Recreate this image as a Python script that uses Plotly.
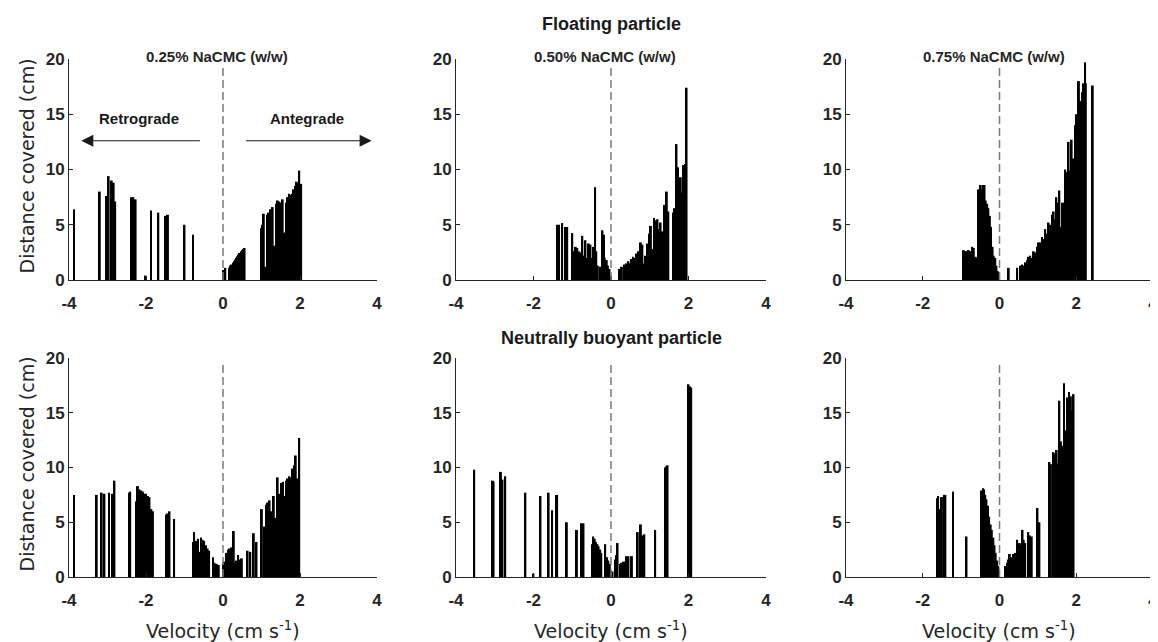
import plotly.graph_objects as go

# ---------------- data (velocity cm/s, distance covered cm) ----------------
vel_f25 = [-3.87, -3.20, -3.04, -2.97, -2.89, -2.84, -2.80, -2.39, -2.33, -2.27, -2.02, -1.87, -1.68, -1.50, -1.43, -1.00, -0.78,
           0.00, 0.06, 0.17, 0.20, 0.23, 0.26, 0.29, 0.32, 0.35, 0.38, 0.41, 0.44, 0.47, 0.50, 0.53, 0.56,
           0.99, 1.02, 1.06, 1.10, 1.15, 1.19, 1.24, 1.29, 1.33, 1.38, 1.42, 1.46, 1.51, 1.55, 1.60, 1.64, 1.68,
           1.72, 1.76, 1.80, 1.84, 1.88, 1.91, 1.95, 1.98, 2.03]
dist_f25 = [6.4, 8.0, 7.6, 9.4, 9.0, 8.8, 7.1, 7.5, 7.5, 7.3, 0.4, 6.3, 6.1, 5.8, 5.9, 5.0, 4.1,
            0.9, 1.1, 1.1, 1.3, 1.4, 1.55, 1.7, 1.85, 2.0, 2.15, 2.3, 2.45, 2.6, 2.7, 2.8, 2.9,
            4.7, 5.0, 6.0, 1.2, 5.9, 6.1, 6.4, 6.6, 3.1, 6.9, 7.2, 7.1, 7.0, 7.3, 4.3, 7.0, 7.5,
            7.8, 7.7, 7.8, 8.2, 8.5, 8.9, 8.8, 9.9, 8.7]

vel_f50 = [-1.39, -1.34, -1.26, -1.17, -1.13, -1.00, -0.97, -0.91, -0.87, -0.83, -0.78, -0.74, -0.70, -0.66, -0.61,
           -0.57, -0.53, -0.48, -0.44, -0.41, -0.38, -0.34, -0.28, -0.22, -0.18, -0.16, -0.11, -0.08, -0.04, -0.01,
           0.23, 0.28, 0.34, 0.40, 0.45, 0.49, 0.53, 0.57, 0.61, 0.66, 0.70, 0.73, 0.77, 0.81, 0.85, 0.90, 0.94, 0.98,
           1.03, 1.07, 1.11, 1.16, 1.20, 1.24, 1.28, 1.33, 1.37, 1.41, 1.44, 1.48, 1.61, 1.65, 1.69, 1.73, 1.77, 1.80,
           1.84, 1.87, 1.91, 1.95]
dist_f50 = [5.0, 5.0, 5.15, 4.8, 4.8, 4.25, 2.6, 3.0, 2.9, 2.6, 2.5, 4.0, 2.2, 3.6, 2.0,
            3.3, 3.2, 2.0, 3.0, 8.4, 2.6, 1.3, 1.2, 4.5, 4.1, 2.0, 1.8, 1.3, 1.0, 0.4,
            1.0, 1.2, 1.4, 1.5, 1.7, 1.5, 1.9, 2.1, 2.0, 2.4, 2.6, 1.2, 3.4, 3.2, 1.5, 2.2, 3.3, 4.2,
            4.9, 2.8, 5.6, 5.4, 5.5, 4.6, 5.2, 4.4, 6.8, 4.7, 8.0, 6.2, 6.1, 6.5, 12.3, 10.2, 8.0, 9.3,
            7.9, 10.4, 10.5, 17.4]

vel_f75 = [-0.93, -0.88, -0.84, -0.80, -0.75, -0.71, -0.67, -0.62, -0.58, -0.54, -0.49, -0.46, -0.42, -0.39, -0.36,
           -0.32, -0.29, -0.25, -0.22, -0.18, -0.15, -0.11, -0.08, -0.04, -0.01,
           0.24, 0.46, 0.54, 0.59, 0.63, 0.67, 0.72, 0.76, 0.80, 0.85, 0.89, 0.93, 0.98, 1.02, 1.06, 1.11, 1.15, 1.19,
           1.24, 1.28, 1.32, 1.37, 1.41, 1.45, 1.48, 1.51, 1.56, 1.60, 1.64, 1.69, 1.71, 1.76, 1.80, 1.84, 1.88, 1.93,
           1.97, 2.00, 2.03, 2.07, 2.11, 2.15, 2.18, 2.23, 2.25, 2.43]
dist_f75 = [2.7, 2.6, 2.6, 2.7, 2.6, 3.0, 2.9, 2.1, 2.0, 8.2, 8.6, 8.2, 8.6, 8.6, 7.2,
            6.9, 6.5, 5.8, 4.8, 3.0, 2.2, 2.0, 1.3, 0.8, 0.3,
            1.1, 1.1, 1.3, 1.4, 1.3, 1.6, 1.8, 2.1, 2.2, 2.0, 2.6, 2.5, 3.0, 3.4, 3.4, 3.9, 3.7, 4.6,
            4.2, 5.2, 5.0, 5.9, 6.2, 5.5, 7.5, 7.0, 8.1, 4.8, 7.0, 7.0, 10.0, 9.8, 12.5, 9.9, 12.7, 11.0,
            14.0, 15.0, 13.5, 18.0, 16.2, 17.0, 17.8, 19.7, 17.8, 17.6]

vel_n25 = [-3.87, -3.28, -3.15, -3.08, -2.96, -2.87, -2.82, -2.43, -2.41, -2.24, -2.21, -2.17, -2.12, -2.08, -2.04,
           -2.00, -1.95, -1.91, -1.86, -1.82, -1.47, -1.43, -1.39, -1.27, -0.78, -0.75, -0.70, -0.65, -0.61, -0.57,
           -0.53, -0.49, -0.44, -0.40, -0.36, -0.26, -0.22, -0.16, -0.11, 0.00, 0.03, 0.09, 0.13, 0.17, 0.21, 0.28,
           0.32, 0.36, 0.39, 0.43, 0.49, 0.64, 0.71, 0.80, 0.87, 1.01, 1.07, 1.12, 1.16, 1.21, 1.26, 1.32, 1.37,
           1.42, 1.47, 1.52, 1.56, 1.60, 1.65, 1.68, 1.72, 1.77, 1.81, 1.85, 1.89, 1.94, 1.98]
dist_n25 = [7.5, 7.5, 7.7, 7.6, 7.7, 7.6, 8.8, 7.7, 7.8, 6.9, 8.3, 8.0, 7.9, 7.8, 7.6,
            7.6, 7.4, 7.3, 6.2, 6.0, 5.7, 5.8, 6.0, 5.3, 3.2, 4.1, 3.3, 3.5, 2.3, 3.6,
            3.4, 3.3, 2.9, 2.6, 2.4, 1.8, 1.3, 1.2, 1.1, 1.2, 1.4, 2.2, 2.5, 2.6, 2.7, 4.2,
            1.3, 1.5, 2.0, 1.6, 1.7, 2.4, 2.3, 4.0, 3.2, 6.2, 4.6, 6.6, 6.8, 7.0, 6.0, 7.4, 5.4,
            9.1, 7.6, 8.6, 8.7, 7.4, 8.8, 9.0, 9.2, 9.1, 9.9, 10.2, 11.1, 9.0, 12.7]

vel_n50 = [-3.53, -3.05, -3.03, -2.84, -2.80, -2.73, -2.21, -2.00, -1.82, -1.61, -1.52, -1.42, -1.39, -1.14, -0.88,
           -0.75, -0.71, -0.49, -0.46, -0.42, -0.39, -0.35, -0.32, -0.28, -0.25, -0.15, -0.10, -0.07, -0.03, 0.00,
           0.04, 0.11, 0.15, 0.17, 0.24, 0.28, 0.33, 0.37, 0.41, 0.45, 0.54, 0.69, 0.77, 0.82, 0.86, 1.14, 1.40,
           1.44, 1.46, 2.00, 2.04, 2.07]
dist_n50 = [9.8, 8.8, 8.7, 9.6, 8.9, 9.2, 7.7, 0.3, 7.4, 7.7, 6.1, 7.5, 7.5, 5.0, 4.3,
            4.9, 4.9, 3.0, 3.7, 3.5, 3.2, 3.0, 2.8, 2.5, 2.2, 3.0, 1.8, 1.5, 1.2, 0.6,
            0.5, 1.6, 2.0, 3.1, 1.2, 1.3, 1.4, 1.4, 1.9, 1.9, 1.9, 4.1, 4.8, 3.8, 3.9, 4.3, 10.0,
            10.1, 10.2, 17.6, 17.4, 17.3]

vel_n75 = [-1.62, -1.60, -1.54, -1.50, -1.44, -1.41, -1.21, -0.86, -0.47, -0.43, -0.40, -0.37, -0.34, -0.30, -0.27,
           -0.23, -0.20, -0.16, -0.13, -0.10, -0.06, -0.03, 0.16, 0.20, 0.23, 0.27, 0.30, 0.34, 0.37, 0.41, 0.46,
           0.49, 0.53, 0.56, 0.60, 0.63, 0.67, 0.75, 0.79, 0.84, 0.99, 1.04, 1.30, 1.34, 1.40, 1.44, 1.49, 1.53,
           1.56, 1.60, 1.64, 1.68, 1.73, 1.77, 1.81, 1.86, 1.89, 1.93]
dist_n75 = [7.2, 7.4, 6.2, 7.3, 7.5, 7.5, 7.8, 3.7, 7.9, 8.1, 8.0, 7.5, 7.1, 6.5, 5.5,
            4.8, 4.3, 3.6, 2.9, 2.2, 1.5, 1.0, 1.0, 1.3, 1.6, 2.1, 1.8, 1.7, 2.1, 2.2, 3.4,
            2.6, 3.1, 2.9, 4.3, 3.4, 3.1, 4.1, 3.8, 3.7, 6.3, 5.0, 10.5, 10.3, 11.4, 11.3, 11.6, 10.4,
            16.1, 12.4, 12.0, 17.7, 13.4, 16.4, 16.9, 16.5, 15.2, 16.7]

concentrations = ["0.25% NaCMC (w/w)", "0.50% NaCMC (w/w)", "0.75% NaCMC (w/w)"]
row_titles = ["Floating particle", "Neutrally buoyant particle"]
x_ticks = [-4, -2, 0, 2, 4]
x_tick_labels = ["-4", "-2", "0", "2", "4"]
y_ticks = [0, 5, 10, 15, 20]
y_tick_labels = ["0", "5", "10", "15", "20"]
x_range = [-4, 4]
y_range = [0, 20]
x_title = "Velocity (cm s<sup>-1</sup>)"
y_title = "Distance covered (cm)"

series = [(vel_f25, dist_f25), (vel_f50, dist_f50), (vel_f75, dist_f75),
          (vel_n25, dist_n25), (vel_n50, dist_n50), (vel_n75, dist_n75)]
for v, d in series:
    assert len(v) == len(d)

# ---------------- layout geometry (screen pixels) ----------------
# The page body adds an 8 px margin before the figure, so every screen
# position is shifted by that offset; the figure runs past the window edge.
OFF = 8
W, H = 1160, 642 - OFF
col_px = [(69, 377), (456, 766), (846, 1153)]
row_px = [(59, 280), (358, 577)]


def px_x(p):
    return (p - OFF) / W


def px_y(p):
    return 1 - (p - OFF) / H


AX_COLOR = "#262626"
tick_font = dict(family="Liberation Sans, Arial, sans-serif", size=17, color=AX_COLOR, weight="bold")
label_font = dict(family="DejaVu Sans, sans-serif", size=19, color="#262626")

fig = go.Figure()
layout = dict(
    width=W, height=H,
    margin=dict(l=0, r=0, t=0, b=0, autoexpand=False),
    paper_bgcolor="white", plot_bgcolor="white",
    showlegend=False, barmode="overlay",
)
annotations = []
shapes = []

for i, (v, d) in enumerate(series):
    r, c = divmod(i, 3)
    n = i + 1
    xa = "x" if n == 1 else f"x{n}"
    ya = "y" if n == 1 else f"y{n}"
    fig.add_trace(go.Bar(
        x=v, y=d, width=0.05, xaxis=xa, yaxis=ya,
        marker=dict(color="black", line=dict(width=0)),
        hoverinfo="x+y",
    ))
    x0, x1 = col_px[c]
    y0, y1 = row_px[r]
    xdom = [px_x(x0), px_x(x1)]
    ydom = [px_y(y1), px_y(y0)]
    key_x = "xaxis" if n == 1 else f"xaxis{n}"
    key_y = "yaxis" if n == 1 else f"yaxis{n}"
    layout[key_x] = dict(
        domain=xdom, range=x_range, tickmode="array", tickvals=x_ticks, ticktext=x_tick_labels,
        ticks="inside", ticklen=4, tickcolor=AX_COLOR, showline=True, linecolor=AX_COLOR, linewidth=1,
        showgrid=False, zeroline=False, tickfont=tick_font, anchor=ya, automargin=False,
        ticklabeloverflow="allow", ticklabelstandoff=8, fixedrange=True,
    )
    layout[key_y] = dict(
        domain=ydom, range=y_range, tickmode="array", tickvals=y_ticks, ticktext=y_tick_labels,
        ticks="inside", ticklen=4, tickcolor=AX_COLOR, showline=True, linecolor=AX_COLOR, linewidth=1,
        showgrid=False, zeroline=False, tickfont=tick_font, anchor=xa, automargin=False,
        ticklabeloverflow="allow", fixedrange=True,
    )
    # dashed zero-velocity line
    shapes.append(dict(type="line", xref=xa, yref=ya, x0=0, x1=0, y0=0, y1=19.5,
                       line=dict(color="#7a7a7a", width=1.5, dash="8px,4px")))
    # concentration labels on the top row
    if r == 0:
        annotations.append(dict(
            text=concentrations[c], xref="paper", yref="paper",
            x=px_x((x0 + x1) / 2 - 6), y=px_y(57), xanchor="center", yanchor="middle",
            showarrow=False, font=dict(family="Liberation Sans, Arial, sans-serif", size=15,
                                       color=AX_COLOR, weight="bold")))
    # x titles on bottom row
    if r == 1:
        annotations.append(dict(
            text=x_title, xref="paper", yref="paper",
            x=px_x((x0 + x1) / 2), y=px_y(630), xanchor="center", yanchor="middle",
            showarrow=False, font=label_font))
    # y titles on left column
    if c == 0:
        annotations.append(dict(
            text=y_title, xref="paper", yref="paper", textangle=-90,
            x=px_x(26), y=px_y((y0 + y1) / 2 - 3), xanchor="center", yanchor="middle",
            showarrow=False, font=label_font))

# row titles
for r, t in enumerate(row_titles):
    ypx = 24 if r == 0 else 338
    annotations.append(dict(
        text=t, xref="paper", yref="paper", x=px_x(611), y=px_y(ypx),
        xanchor="center", yanchor="middle", showarrow=False,
        font=dict(family="Liberation Sans, Arial, sans-serif", size=18, color="#1a1a1a", weight="bold")))

# direction arrows and labels (first panel)
arrow_font = dict(family="Liberation Sans, Arial, sans-serif", size=15, color="#1a1a1a", weight="bold")
annotations.append(dict(text="Retrograde", xref="x", yref="y", x=-2.18, y=14.6,
                        showarrow=False, font=arrow_font))
annotations.append(dict(text="Antegrade", xref="x", yref="y", x=2.17, y=14.6,
                        showarrow=False, font=arrow_font))
annotations.append(dict(text="", xref="x", yref="y", axref="x", ayref="y",
                        x=-3.68, y=12.6, ax=-0.56, ay=12.6, showarrow=True,
                        arrowhead=2, arrowsize=2.0, arrowwidth=1.2, arrowcolor="#1a1a1a"))
annotations.append(dict(text="", xref="x", yref="y", axref="x", ayref="y",
                        x=3.86, y=12.6, ax=0.56, ay=12.6, showarrow=True,
                        arrowhead=2, arrowsize=2.0, arrowwidth=1.2, arrowcolor="#1a1a1a"))

layout["annotations"] = annotations
layout["shapes"] = shapes
fig.update_layout(**layout)

fig.write_html("out.html")
